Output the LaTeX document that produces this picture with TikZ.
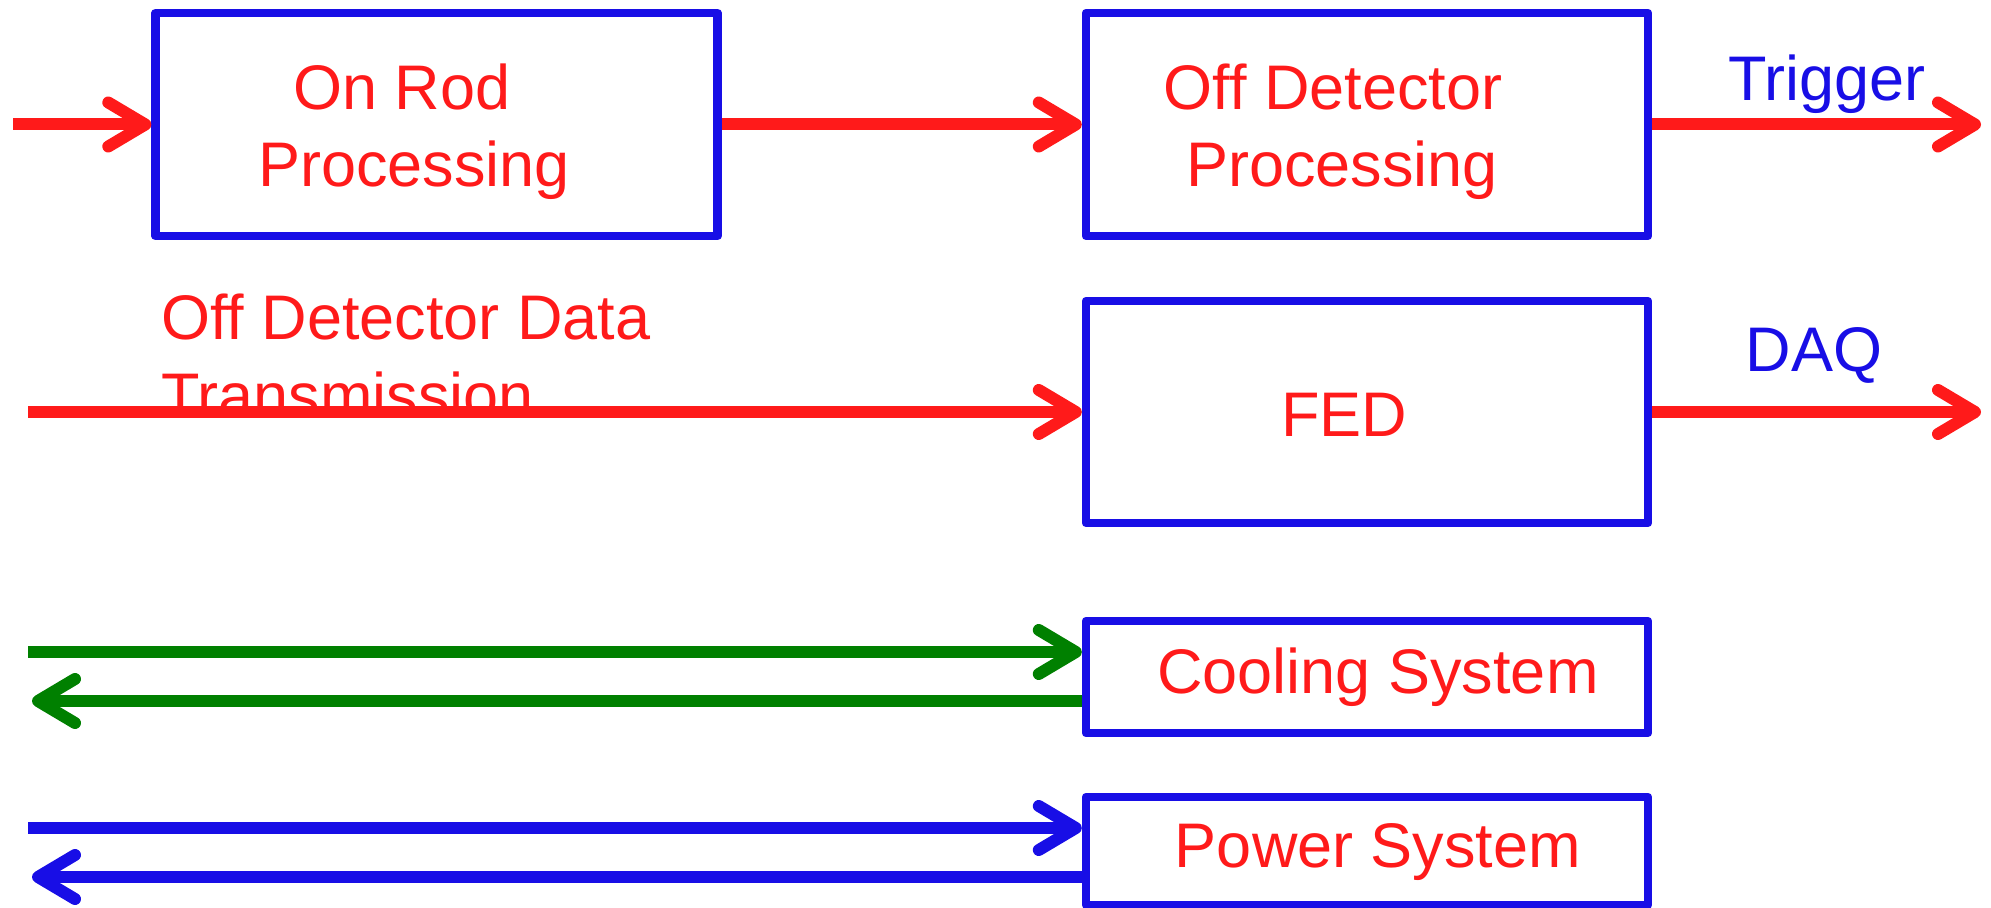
\documentclass[tikz,border=0pt]{standalone}
\usepackage{fontspec}
\setmainfont{Liberation Sans}
\usetikzlibrary{arrows.meta}
\definecolor{redc}{RGB}{255,26,26}
\definecolor{bluec}{RGB}{24,14,230}
\definecolor{greenc}{RGB}{0,128,0}
\begin{document}
\begin{tikzpicture}[x=0.5pt,y=-0.5pt,
  box/.style={draw=bluec,line width=4.2pt,line join=round,rectangle,inner sep=0pt,minimum width=281pt},
  lbl/.style={anchor=base,inner sep=0pt,font=\fontsize{31.5}{38}\selectfont},
  redlbl/.style={lbl,text=redc},
  bluelbl/.style={lbl,text=bluec},
  conn/.style={line width=6pt,-{Straight Barb[length=18.5pt,width=22pt,line cap=round,line join=round]}},
  redarrow/.style={conn,draw=redc},
  greenarrow/.style={conn,draw=greenc},
  bluearrow/.style={conn,draw=bluec}]
\useasboundingbox (0,0) rectangle (1991,908);
% boxes
\node[box,minimum height=111.5pt] (onrod) at (436.5,124.5) {};
\node[box,minimum height=111.5pt] (offdet) at (1367,124.5) {};
\node[box,minimum height=111pt] (fed) at (1367,412) {};
\node[box,minimum height=56pt] (cooling) at (1367,677) {};
\node[box,minimum height=54pt] (power) at (1367,851) {};
% labels
\node[redlbl] (t1) at (402,110) {On Rod};
\node[redlbl] (t2) at (414,187) {Processing};
\node[redlbl] (t3) at (1333,110) {Off Detector};
\node[redlbl] (t4) at (1342,187) {Processing};
\node[bluelbl] (t5) at (1827,101) {Trigger};
\node[redlbl,anchor=base west] (t6) at (161,340) {Off Detector Data};
\node[redlbl,anchor=base west] (t7) at (161,418) {Transmission};
\node[redlbl] (t8) at (1344,437) {FED};
\node[bluelbl] (t9) at (1814,372) {DAQ};
\node[redlbl] (t10) at (1378,693) {Cooling System};
\node[redlbl] (t11) at (1378,867) {Power System};
% free ends
\coordinate (in1) at (13,124.5);
\coordinate (trig) at (1981,124.5);
\coordinate (in2) at (28,412);
\coordinate (daq) at (1981,412);
\coordinate (cin) at (28,652);
\coordinate (cout) at (32,701);
\coordinate (pin) at (28,828);
\coordinate (pout) at (32,877);
% connectors
\draw[redarrow] (in1) -- (onrod.west);
\draw[redarrow] (onrod.east) -- (offdet.west);
\draw[redarrow] (offdet.east) -- (trig);
\draw[redarrow] (in2) -- (fed.west);
\draw[redarrow] (fed.east) -- (daq);
\draw[greenarrow] (cin) -- ([yshift=12.5pt]cooling.west);
\draw[greenarrow] ([yshift=-12pt]cooling.west) -- (cout);
\draw[bluearrow] (pin) -- ([yshift=11.5pt]power.west);
\draw[bluearrow] ([yshift=-13pt]power.west) -- (pout);
\end{tikzpicture}
\end{document}
